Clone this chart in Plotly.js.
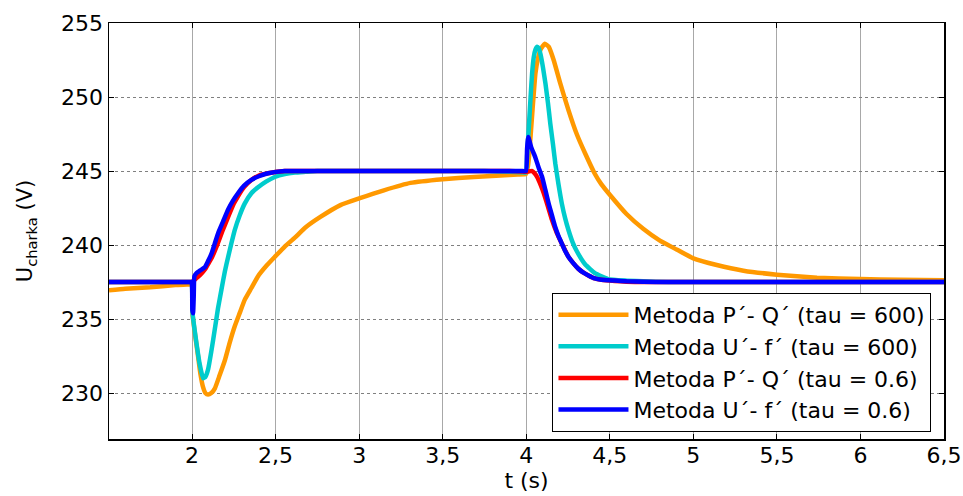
<!DOCTYPE html>
<html>
<head>
<meta charset="utf-8">
<script src="https://cdn.plot.ly/plotly-3.0.1.min.js"></script>
<style>html,body{margin:0;padding:0;background:#fff;}#chart{width:963px;height:496px;}</style>
</head>
<body>
<div id="chart"></div>
<script>
// Series names
const names = [
  "Metoda P´- Q´ (tau = 600)",
  "Metoda U´- f´ (tau = 600)",
  "Metoda P´- Q´ (tau = 0.6)",
  "Metoda U´- f´ (tau = 0.6)"
];

// Metoda P'-Q' (tau = 600)
const pq600_t = [1.503, 1.6, 1.75, 1.9, 1.97, 1.998, 2.003, 2.02, 2.036, 2.05, 2.066, 2.08, 2.096, 2.115, 2.136, 2.165, 2.196, 2.225, 2.255, 2.285, 2.315, 2.355, 2.395, 2.445, 2.495, 2.555, 2.615, 2.68, 2.768, 2.888, 3.0, 3.148, 3.307, 3.5, 3.687, 3.846, 3.95, 3.998, 4.008, 4.016, 4.036, 4.055, 4.07, 4.085, 4.111, 4.134, 4.164, 4.204, 4.253, 4.302, 4.352, 4.411, 4.45, 4.5, 4.6, 4.7, 4.8, 4.9, 5.0, 5.14, 5.3, 5.5, 5.74, 6.0, 6.24, 6.5];
const pq600_u = [236.95, 237.05, 237.15, 237.3, 237.33, 237.35, 235.3, 233.8, 232.5, 231.3, 230.4, 230.0, 229.9, 230.0, 230.3, 231.2, 232.2, 233.4, 234.5, 235.4, 236.3, 237.1, 237.9, 238.6, 239.2, 239.9, 240.5, 241.2, 241.9, 242.7, 243.15, 243.7, 244.2, 244.45, 244.6, 244.7, 244.77, 244.8, 245.2, 245.9, 248.9, 251.6, 252.6, 253.2, 253.6, 253.4, 252.5, 250.9, 249.1, 247.5, 246.2, 244.8, 244.1, 243.4, 242.1, 241.1, 240.3, 239.7, 239.1, 238.65, 238.27, 238.0, 237.8, 237.7, 237.65, 237.63];

// Metoda U'-f' (tau = 600)
const uf600_t = [1.503, 1.7, 1.9, 1.97, 1.99, 1.998, 2.003, 2.015, 2.026, 2.045, 2.066, 2.08, 2.096, 2.115, 2.136, 2.155, 2.176, 2.196, 2.216, 2.235, 2.255, 2.285, 2.315, 2.355, 2.395, 2.445, 2.495, 2.555, 2.615, 2.68, 2.75, 2.85, 3.0, 3.25, 3.5, 3.75, 3.9, 3.97, 3.998, 4.005, 4.012, 4.026, 4.035, 4.045, 4.055, 4.065, 4.075, 4.085, 4.1, 4.115, 4.13, 4.144, 4.16, 4.174, 4.193, 4.213, 4.233, 4.253, 4.277, 4.302, 4.352, 4.411, 4.49, 4.589, 4.7, 4.85, 5.0, 5.5, 6.0, 6.5];
const uf600_u = [237.5, 237.5, 237.5, 237.5, 237.5, 237.5, 235.4, 234.3, 233.4, 232.0, 231.0, 231.1, 231.6, 232.8, 234.3, 235.7, 237.0, 238.2, 239.2, 240.1, 241.0, 242.0, 242.8, 243.5, 243.9, 244.3, 244.6, 244.8, 244.9, 244.95, 245.0, 245.0, 245.0, 245.0, 245.0, 245.0, 244.95, 244.92, 244.9, 246.0, 247.3, 250.0, 251.6, 252.7, 253.2, 253.4, 253.3, 252.9, 252.0, 250.9, 249.6, 248.2, 246.8, 245.5, 244.1, 242.8, 241.8, 241.0, 240.2, 239.6, 238.7, 238.1, 237.7, 237.6, 237.55, 237.5, 237.5, 237.5, 237.5, 237.5];

// Metoda P'-Q' (tau = 0.6)
const pq06_t = [1.503, 1.7, 1.9, 1.97, 1.99, 1.998, 2.01, 2.03, 2.05, 2.08, 2.1, 2.12, 2.15, 2.18, 2.216, 2.25, 2.275, 2.31, 2.355, 2.4, 2.455, 2.555, 2.734, 2.9, 3.0, 3.25, 3.5, 3.75, 3.9, 3.97, 3.998, 4.036, 4.05, 4.065, 4.085, 4.105, 4.13, 4.154, 4.18, 4.204, 4.23, 4.253, 4.28, 4.312, 4.34, 4.372, 4.41, 4.45, 4.53, 4.6, 4.7, 4.85, 5.0, 5.5, 6.0, 6.5];
const pq06_u = [237.5, 237.5, 237.5, 237.5, 237.5, 237.5, 237.6, 237.8, 238.0, 238.4, 238.8, 239.2, 240.0, 240.9, 241.9, 242.8, 243.3, 243.9, 244.4, 244.7, 244.85, 245.0, 245.0, 245.0, 245.0, 245.0, 245.0, 245.0, 245.0, 244.97, 244.95, 245.0, 244.85, 244.6, 244.1, 243.5, 242.6, 241.7, 240.9, 240.3, 239.7, 239.2, 238.8, 238.4, 238.15, 237.95, 237.75, 237.66, 237.58, 237.53, 237.5, 237.5, 237.5, 237.5, 237.5, 237.5];

// Metoda U'-f' (tau = 0.6)
const uf06_t = [1.503, 1.7, 1.9, 1.97, 1.99, 1.998, 2.002, 2.006, 2.01, 2.014, 2.026, 2.05, 2.076, 2.095, 2.116, 2.136, 2.156, 2.186, 2.216, 2.245, 2.275, 2.31, 2.355, 2.4, 2.455, 2.555, 2.734, 2.9, 3.0, 3.25, 3.5, 3.75, 3.9, 3.97, 3.998, 4.005, 4.012, 4.03, 4.055, 4.075, 4.095, 4.115, 4.134, 4.154, 4.174, 4.193, 4.213, 4.233, 4.253, 4.28, 4.312, 4.34, 4.372, 4.41, 4.45, 4.53, 4.6, 4.7, 4.85, 5.0, 5.5, 6.0, 6.5];
const uf06_u = [237.5, 237.5, 237.5, 237.5, 237.5, 237.5, 235.6, 235.4, 236.5, 237.9, 238.1, 238.3, 238.5, 238.9, 239.4, 240.1, 240.8, 241.6, 242.4, 243.0, 243.5, 244.0, 244.4, 244.65, 244.85, 245.0, 245.0, 245.0, 245.0, 245.0, 245.0, 245.0, 245.0, 245.0, 245.0, 246.5, 247.3, 246.6, 245.9, 245.2, 244.6, 243.7, 242.8, 242.0, 241.2, 240.6, 240.1, 239.6, 239.2, 238.8, 238.4, 238.15, 237.95, 237.75, 237.66, 237.6, 237.55, 237.52, 237.5, 237.5, 237.5, 237.5, 237.5];

const colors = ["#FF9900", "#00CCCC", "#FF0000", "#0000FF"];
const xs = [pq600_t, uf600_t, pq06_t, uf06_t];
const ys = [pq600_u, uf600_u, pq06_u, uf06_u];

const FONT = "DejaVu Sans, Arial, sans-serif";

const traces = names.map((n, i) => ({
  x: xs[i], y: ys[i], name: n, type: "scatter", mode: "lines",
  legendgroup: "g" + i,
  line: {color: colors[i], width: 4.5, shape: "spline", smoothing: 0.4}
}));

const layout = {
  width: 963, height: 496,
  margin: {l: 109, r: 19, t: 23, b: 57},
  paper_bgcolor: "#fff", plot_bgcolor: "#fff",
  separators: ", ",
  font: {family: FONT, size: 22, color: "#000"},
  showlegend: true,
  legend: {
    x: 0.985, y: 0.017, xanchor: "right", yanchor: "bottom",
    bgcolor: "#fff", bordercolor: "#000", borderwidth: 1,
    font: {family: FONT, size: 22, color: "#000"},
    traceorder: "grouped", tracegroupgap: 0, itemwidth: 70
  },
  xaxis: {
    range: [1.503, 6.5], tick0: 2, dtick: 0.5,
    showgrid: true, gridcolor: "#a8a8a8", gridwidth: 1,
    zeroline: false, showline: true, linecolor: "#000", linewidth: 1.5,
    mirror: "ticks", ticks: "inside", ticklen: 5, tickcolor: "#000",
    tickfont: {family: FONT, size: 22},
    ticklabelstandoff: -4,
    title: {text: "t (s)", font: {family: FONT, size: 22}, standoff: 4}
  },
  yaxis: {
    range: [226.9, 255], tick0: 230, dtick: 5,
    showgrid: true, gridcolor: "#808080", gridwidth: 1, griddash: "dot",
    zeroline: false, showline: true, linecolor: "#000", linewidth: 1.5,
    mirror: "ticks", ticks: "inside", ticklen: 5, tickcolor: "#000",
    tickfont: {family: FONT, size: 22},
    title: {text: "U<sub>charka</sub> (V)", font: {family: FONT, size: 21}, standoff: 22}
  }
};

Plotly.newPlot("chart", traces, layout, {displayModeBar: false, staticPlot: true});
</script>
</body>
</html>
